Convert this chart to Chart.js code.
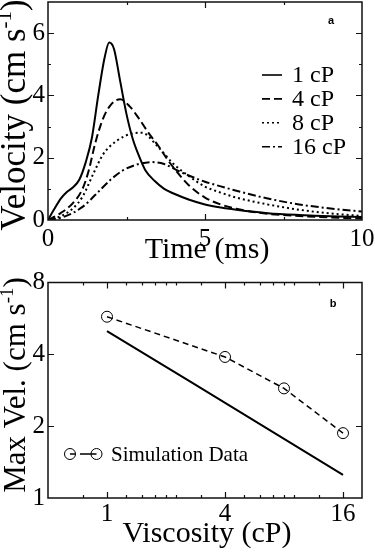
<!DOCTYPE html>
<html><head><meta charset="utf-8">
<script src="https://cdn.jsdelivr.net/npm/chart.js@4"></script>
<style>
html,body{margin:0;padding:0;background:#fff;width:375px;height:552px;overflow:hidden}
#wa{position:absolute;left:0;top:0;width:375px;height:270px}
#wb{position:absolute;left:0;top:270px;width:375px;height:282px}
</style></head><body>
<div id="wa"><canvas id="ca" width="375" height="270"></canvas></div>
<div id="wb"><canvas id="cb" width="375" height="282"></canvas></div>
<script>
// ---------- Panel a data ----------
const t1  = [0,0.2,0.4,0.6,0.8,1.0,1.2,1.4,1.6,1.8,1.95,2.1,2.3,2.5,2.7,2.9,3.1,3.4,3.7,4.0,4.5,5,5.5,6,7,8,9,10];
const v1  = [0,0.35,0.68,0.9,1.05,1.3,1.85,2.65,4.0,5.2,5.7,5.5,4.45,3.4,2.6,2.05,1.6,1.25,1.0,0.85,0.65,0.5,0.4,0.33,0.22,0.16,0.12,0.1];
const t4  = [0,0.4,0.8,1.1,1.3,1.5,1.75,2.0,2.3,2.6,2.9,3.2,3.5,3.8,4.1,4.5,5,5.5,6,7,8,9,10];
const v4  = [0,0.22,0.55,1.0,1.6,2.45,3.25,3.7,3.88,3.65,3.25,2.8,2.4,1.95,1.55,1.1,0.72,0.5,0.36,0.2,0.13,0.08,0.05];
const t8  = [0,0.4,0.8,1.1,1.45,1.75,2.2,2.7,3.0,3.5,4.0,4.5,5,5.5,6,7,8,9,10];
const v8  = [0,0.12,0.38,0.75,1.5,2.1,2.55,2.78,2.8,2.35,1.8,1.4,1.07,0.88,0.72,0.5,0.33,0.21,0.13];
const t16 = [0,0.5,1.1,1.5,2.0,2.4,2.9,3.3,3.7,4.1,4.5,5,5.5,6,7,8,9,10];
const v16 = [0,0.1,0.42,0.8,1.3,1.6,1.8,1.86,1.8,1.6,1.42,1.23,1.08,0.94,0.69,0.5,0.37,0.27];
const labelsA = ['1 cP','4 cP','8 cP','16 cP'];
const xTicksA = [0,5,10];
const xMinorA = [2.5,7.5];
const yTicksA = [0,2,4,6];
const yMinorA = [1,3,5];

// ---------- Panel b data ----------
const viscSim = [1,4,8,16];
const velSim  = [5.75,3.9,2.88,1.87];
const viscTheory = [1,2.7,16];
const velTheory  = [5.0,3.05,1.25];
const xTicksB = [1,4,16];
const xMinorB = [0.75,1.25,1.5,1.75,2,2.25,3,5,6,7,8,9,12];
const yTicksB = [1,2,4,8];
const yMinorB = [];

const SERIF = "'Liberation Serif', 'Times New Roman', serif";
const pts = (xs, ys) => xs.map((x,i)=>({x, y: ys[i]}));

const deco = {
  id: 'deco',
  afterDraw(chart, args, o) {
    const ctx = chart.ctx, a = chart.chartArea;
    const xs = chart.scales.x, ys = chart.scales.y;
    ctx.save();
    ctx.strokeStyle = '#111'; ctx.lineWidth = 1.2;
    const tick = (scale, vals, len, horiz) => {
      vals.forEach(v => {
        const p = Math.round(scale.getPixelForValue(v)) + 0.5;
        ctx.beginPath();
        if (horiz) { ctx.moveTo(p, a.bottom); ctx.lineTo(p, a.bottom - len); ctx.moveTo(p, a.top); ctx.lineTo(p, a.top + len); }
        else { ctx.moveTo(a.left, p); ctx.lineTo(a.left + len, p); ctx.moveTo(a.right, p); ctx.lineTo(a.right - len, p); }
        ctx.stroke();
      });
    };
    tick(xs, xs.ticks.map(t=>t.value).filter(v=>v>xs.min&&v<xs.max), 6, true);
    tick(xs, o.xMinor, 3, true);
    tick(ys, ys.ticks.map(t=>t.value).filter(v=>v>ys.min&&v<ys.max), 6, false);
    tick(ys, o.yMinor, 3, false);
    ctx.lineWidth = 1.5;
    ctx.strokeRect(a.left, a.top, a.width, a.height);

    // x title
    ctx.fillStyle = '#000';
    ctx.font = '30px ' + SERIF;
    ctx.textAlign = 'center'; ctx.textBaseline = 'alphabetic';
    ctx.fillText(o.xTitle, o.xTitleX, o.xTitleY);

    // y title with superscript
    const fs = o.yTitleSize;
    const big = fs + 'px ' + SERIF, small = Math.round(fs*0.6) + 'px ' + SERIF;
    ctx.font = big; const w1 = ctx.measureText(o.yPre).width; const w3 = ctx.measureText(o.yPost).width;
    ctx.font = small; const w2 = ctx.measureText(o.ySup).width;
    const tot = w1 + w2 + w3;
    ctx.save();
    ctx.translate(o.yTitleX, o.yTitleCY);
    ctx.rotate(-Math.PI/2);
    ctx.textAlign = 'left';
    let x0 = -tot/2;
    ctx.font = big; ctx.fillText(o.yPre, x0, 0);
    ctx.font = small; ctx.fillText(o.ySup, x0 + w1, -fs*0.4);
    ctx.font = big; ctx.fillText(o.yPost, x0 + w1 + w2, 0);
    ctx.restore();

    // panel letter
    ctx.font = "bold 11px 'Liberation Sans', Arial, sans-serif";
    ctx.textAlign = 'center'; ctx.textBaseline = 'middle';
    ctx.fillText(o.letter, o.letterX, o.letterY);

    // legend
    if (o.legend === 'a') {
      chart.data.datasets.forEach((ds, i) => {
        const y = 75 + i * 23.9;
        ctx.save();
        ctx.strokeStyle = '#000'; ctx.lineWidth = 1.6;
        ctx.setLineDash(ds.borderDash || []);
        ctx.beginPath(); ctx.moveTo(262, y); ctx.lineTo(282, y); ctx.stroke();
        ctx.restore();
        ctx.font = '24px ' + SERIF; ctx.textAlign = 'left'; ctx.textBaseline = 'middle';
        ctx.fillText(ds.label, 292, y + 1);
      });
    } else if (o.legend === 'b') {
      const ds = chart.data.datasets[0];
      const y = 184;
      ctx.strokeStyle = '#000'; ctx.lineWidth = 1;
      ctx.beginPath(); ctx.arc(70, y, 5.5, 0, Math.PI*2); ctx.stroke();
      ctx.beginPath(); ctx.arc(96.5, y, 5.5, 0, Math.PI*2); ctx.stroke();
      ctx.lineWidth = 1.3;
      ctx.beginPath(); ctx.moveTo(70, y); ctx.lineTo(75.5, y); ctx.moveTo(80, y); ctx.lineTo(96.5, y); ctx.stroke();
      ctx.font = '21px ' + SERIF; ctx.textAlign = 'left'; ctx.textBaseline = 'middle';
      ctx.fillText(ds.label, 111, y + 1);
    }
    ctx.restore();
  }
};

const setTicks = vals => (s => { s.ticks = vals.map(v => ({value: v})); });
const fitW = w => (s => { s.width = w; s.paddingTop = 0; s.paddingBottom = 0; s.paddingLeft = 0; s.paddingRight = 0; });
const fitH = h => (s => { s.height = h; s.paddingTop = 0; s.paddingBottom = 0; s.paddingLeft = 0; s.paddingRight = 0; });

const lineDs = (label, xs, ys, dash) => ({
  label, data: pts(xs, ys), borderColor: '#000', borderWidth: 2, borderDash: dash,
  pointRadius: 0, fill: false, cubicInterpolationMode: 'monotone'
});

new Chart(document.getElementById('ca'), {
  type: 'line',
  data: { datasets: [
    lineDs(labelsA[0], t1, v1, []),
    lineDs(labelsA[1], t4, v4, [8,4]),
    lineDs(labelsA[2], t8, v8, [2,3]),
    lineDs(labelsA[3], t16, v16, [8,3,2,3])
  ]},
  options: {
    responsive: false, animation: false, devicePixelRatio: 1,
    layout: { padding: { top: 2, right: 13, left: 0, bottom: 0 } },
    plugins: { legend: { display: false }, tooltip: { enabled: false },
      deco: { xMinor: xMinorA, yMinor: yMinorA, xTitle: 'Time (ms)', xTitleX: 207, xTitleY: 258,
              yPre: 'Velocity (cm s', ySup: '-1', yPost: ')', yTitleX: 25, yTitleCY: 115, yTitleSize: 35,
              letter: 'a', letterX: 331, letterY: 21, legend: 'a' } },
    scales: {
      x: { type: 'linear', min: 0, max: 10, afterBuildTicks: setTicks(xTicksA),
           afterFit: fitH(50),
           grid: { display: false, drawTicks: false }, border: { display: false },
           ticks: { font: { family: SERIF, size: 25 }, color: '#000', padding: 4, maxRotation: 0, callback: v => String(v) } },
      y: { type: 'linear', min: 0, max: 7, afterBuildTicks: setTicks(yTicksA),
           afterFit: fitW(48),
           grid: { display: false, drawTicks: false }, border: { display: false },
           ticks: { font: { family: SERIF, size: 25 }, color: '#000', padding: 3, callback: v => String(v) } }
    }
  },
  plugins: [deco]
});

new Chart(document.getElementById('cb'), {
  type: 'line',
  data: { datasets: [
    { label: 'Simulation Data', data: pts(viscSim, velSim), borderColor: '#000', borderWidth: 1.5,
      borderDash: [6,4], pointStyle: 'circle', pointRadius: 5.5, pointBorderWidth: 1,
      pointBackgroundColor: 'rgba(0,0,0,0)', pointBorderColor: '#000', fill: false, tension: 0 },
    { label: 'Theory', data: pts(viscTheory, velTheory), borderColor: '#000', borderWidth: 2,
      pointRadius: 0, fill: false, tension: 0 }
  ]},
  options: {
    responsive: false, animation: false, devicePixelRatio: 1,
    layout: { padding: { top: 12.5, right: 13, left: 0, bottom: 0 } },
    plugins: { legend: { display: false }, tooltip: { enabled: false },
      deco: { xMinor: xMinorB, yMinor: yMinorB, xTitle: 'Viscosity (cP)', xTitleX: 207, xTitleY: 272,
              yPre: 'Max Vel. (cm s', ySup: '-1', yPost: ')', yTitleX: 25, yTitleCY: 115, yTitleSize: 31,
              letter: 'b', letterX: 333, letterY: 34, legend: 'b' } },
    scales: {
      x: { type: 'logarithmic', min: 0.5, max: 20, afterBuildTicks: setTicks(xTicksB),
           afterFit: fitH(54),
           grid: { display: false, drawTicks: false }, border: { display: false },
           ticks: { font: { family: SERIF, size: 25 }, color: '#000', padding: 1, maxRotation: 0, autoSkip: false, callback: v => String(v) } },
      y: { type: 'logarithmic', min: 1, max: 8, afterBuildTicks: setTicks(yTicksB),
           afterFit: fitW(48),
           grid: { display: false, drawTicks: false }, border: { display: false },
           ticks: { font: { family: SERIF, size: 25 }, color: '#000', padding: 3, autoSkip: false, callback: v => String(v) } }
    }
  },
  plugins: [deco]
});
</script>
</body></html>
